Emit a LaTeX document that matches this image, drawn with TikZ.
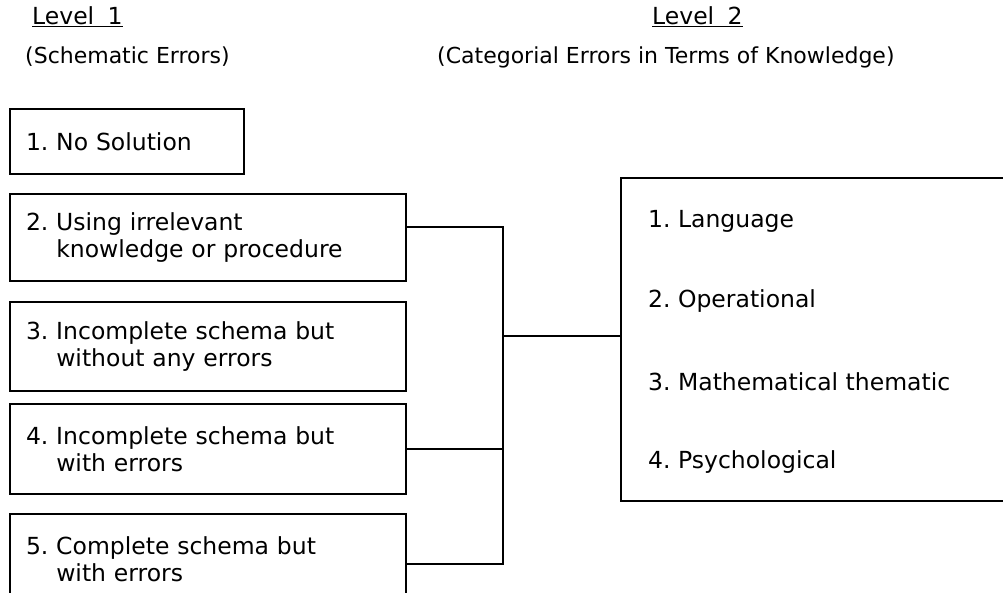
\documentclass[tikz,border=0pt]{standalone}
\usepackage{fontspec}
\setmainfont{DejaVu Sans}
\frenchspacing
\usetikzlibrary{positioning}
\begin{document}
\begin{tikzpicture}[x=1pt, y=-1pt, font=\fontsize{23.5}{27}\selectfont, line join=miter,
		box/.style={draw, line width=2pt, rectangle, anchor=north west, inner xsep=16pt, inner ysep=0pt, align=left},
		head/.style={anchor=base west, inner sep=0pt, font=\fontsize{22}{26}\selectfont},
		item/.style={anchor=base west, inner sep=0pt},
		link/.style={line width=2pt}]
				\path[use as bounding box, clip] (0,0) rectangle (1003,592);
				\path
				(503,227) coordinate (top)
				(503,336) coordinate (mid)
				(503,564) coordinate (bot)
				;
				% headings
				\node[item] (l1) at (32,24) {\underline{Level\hspace{0.25em} 1}};
				\node[head] (h1) at (25,63) {(Schematic Errors)};
				\node[item] (l2) at (652,24) {\underline{Level\hspace{0.25em} 2}};
				\node[head] (h2) at (437,63) {(Categorial Errors in Terms of Knowledge)};
				
				% level 1 boxes
				\node[box, text width=202pt, minimum height=65pt] (s1) at (9,108) {1. No Solution};
				\node[box, text width=364pt, minimum height=87pt] (s2) at (9,193) {2. Using irrelevant\\\phantom{2. }knowledge or procedure};
				\node[box, text width=364pt, minimum height=89pt] (s3) at (9,301) {3. Incomplete schema but\\\phantom{3. }without any errors};
				\node[box, text width=364pt, minimum height=90pt] (s4) at (9,403) {4. Incomplete schema but\\\phantom{4. }with errors};
				\node[box, text width=364pt, minimum height=90pt] (s5) at (9,513) {5. Complete schema but\\\phantom{5. }with errors};
				
				% level 2 box
				\node[box, minimum width=400pt, minimum height=323pt] (k) at (620,177) {};
				\node[item] (k1) at (648,227) {1. Language};
				\node[item] (k2) at (648,307) {2. Operational};
				\node[item] (k3) at (648,390) {3. Mathematical thematic};
				\node[item] (k4) at (648,468) {4. Psychological};
				
				\draw[link] (s2.east |- top) -- (top) -- (bot) -- (s5.east |- bot);
				\draw[link] (s4.east) -- (s4.east -| mid);
				\draw[link] (mid) -- (mid -| k.west);
		\end{tikzpicture}
\end{document}
